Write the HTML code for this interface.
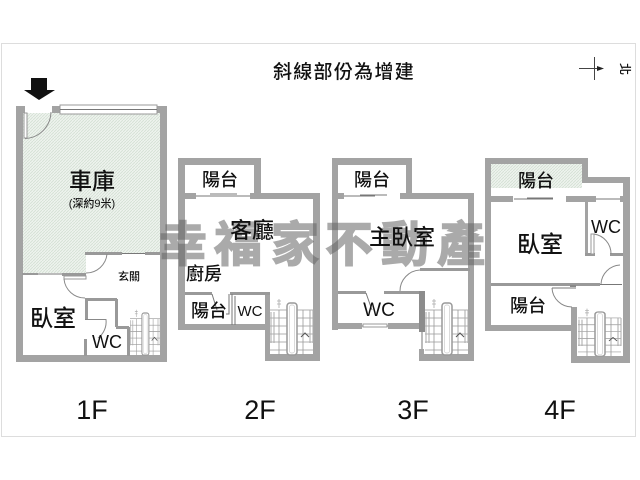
<!DOCTYPE html>
<html><head><meta charset="utf-8"><style>
html,body{margin:0;padding:0;background:#fff;width:640px;height:480px;overflow:hidden}
svg{display:block}
text{font-family:"Liberation Sans","Noto Sans CJK TC",sans-serif;fill:#111;text-anchor:middle;font-weight:500}
.w{fill:#a3a3a3}
.l{stroke:#777;stroke-width:1;fill:none}
.g{stroke:#999;stroke-width:1;fill:#fff}
text.wm{font-weight:700;font-size:48px;fill:#666;stroke:#666;stroke-width:1.5;opacity:.55}
</style></head><body>
<svg width="640" height="480" viewBox="0 0 640 480" xmlns="http://www.w3.org/2000/svg">
<defs>
<pattern id="h" width="3" height="3" patternUnits="userSpaceOnUse"><rect width="3" height="3" fill="#eef3ee"/><path d="M0 3L3 0" stroke="#d3e0d3" stroke-width=".8"/></pattern>
<g id="st">
<path d="M0 7H43M0 15H43M0 23H43M0 31H43M0 39H43M0 47H43M9 7V52M33 7V52" stroke="#999" stroke-width=".8" fill="none"/>
<rect x="17" y="0" width="10" height="52" rx="3" fill="#fff" stroke="#999" stroke-width="1.5"/>
<rect x="19.500" y="2" width="5" height="48" rx="2" fill="#fff" stroke="#ccc" stroke-width=".7"/>
<path d="M1 9V40M4 9V40M40 7V40M43 7V40" stroke="#aaa" fill="none"/>
<path d="M31 34L35 30L39 34" stroke="#555" fill="none"/>
<path d="M9 -4V5M7 -2H11M7 1H11" stroke="#aaa" stroke-width=".8" fill="none"/>
</g>
</defs>
<rect x="1.500" y="43.500" width="634" height="393" fill="#fff" stroke="#ddd"/>

<text x="344" y="78" font-size="19" letter-spacing="1.300">斜線部份為增建</text>
<path d="M579 68.500H602" stroke="#444"/><path d="M594.500 57V80" stroke="#444"/><path d="M604 68.500l-7-2.500v5z" fill="#222"/>
<text x="624" y="69" font-size="12" transform="rotate(90 624 69)" style="dominant-baseline:middle">北</text>

<!-- 1F -->
<rect x="22" y="113" width="138" height="160" fill="url(#h)"/>
<rect x="86" y="253" width="74" height="20" fill="#fff"/>
<path d="M31 78H47V90H55L39 100L24 90H31Z" fill="#111"/>
<rect class="w" x="16" y="106" width="7" height="256"/>
<rect class="w" x="160" y="106" width="7" height="256"/>
<rect class="w" x="16" y="355" width="151" height="7"/>
<rect class="w" x="16" y="106" width="9" height="7"/>
<rect class="w" x="52" y="106" width="8" height="7"/>
<rect class="w" x="157" y="106" width="10" height="7"/>
<rect class="g" x="60" y="105" width="97" height="9"/>
<path class="l" d="M60 109.500H157"/>
<rect class="g" x="24" y="113" width="3" height="25"/>
<path d="M25 138.500A27 27 0 0 0 51 112" fill="none" stroke="#888"/>
<rect fill="#999" x="85" y="252" width="37" height="3"/>
<path class="l" d="M122 253.500H145"/>
<rect fill="#999" x="145" y="252" width="15" height="3"/>
<path d="M107 254A21 21 0 0 1 86 273" fill="none" stroke="#888"/>
<rect fill="#999" x="22" y="273" width="16" height="2"/>
<path class="l" d="M38 274H62"/>
<rect fill="#999" x="62" y="273" width="24" height="3"/>
<rect class="g" x="64" y="276" width="22" height="3"/>
<path d="M64 279A21 21 0 0 0 85 298" fill="none" stroke="#888"/>
<path d="M86.500 298V319M85 299.500H117M116.500 299V327M116 327.500H129M128.500 327V356" stroke="#999" stroke-width="3" fill="none"/>
<path d="M85 319.500H106A20 20 0 0 1 98 338" fill="none" stroke="#888"/>
<rect fill="#999" x="84" y="339" width="3" height="17"/>
<use href="#st" transform="translate(130,313) scale(.7,.81)"/>

<!-- 2F -->
<rect class="w" x="178" y="158" width="7" height="172"/>
<rect class="w" x="178" y="158" width="83" height="7"/>
<rect class="w" x="254" y="158" width="7" height="41"/>
<rect class="w" x="178" y="193" width="18" height="6"/>
<rect class="w" x="250" y="193" width="70" height="6"/>
<rect class="w" x="313" y="193" width="7" height="168"/>
<rect class="w" x="265" y="354" width="55" height="7"/>
<rect class="w" x="265" y="292" width="5" height="69"/>
<rect class="w" x="178" y="324" width="92" height="6"/>
<rect x="185" y="292" width="27" height="3" fill="#999"/>
<rect x="230" y="292" width="40" height="3" fill="#999"/>
<path class="l" d="M196 196H250M210 194H237M212 294L217 310"/>
<path class="l" d="M229 294V314H226M232 294V325M235 296V325"/>
<use href="#st" transform="translate(270,303)"/>

<!-- 3F -->
<rect class="w" x="332" y="158" width="6" height="172"/>
<rect class="w" x="332" y="158" width="80" height="7"/>
<rect class="w" x="406" y="158" width="6" height="41"/>
<rect class="w" x="332" y="193" width="12" height="6"/>
<rect class="w" x="400" y="193" width="74" height="6"/>
<rect class="w" x="468" y="193" width="6" height="168"/>
<rect class="w" x="419" y="354" width="55" height="7"/>
<rect class="w" x="332" y="323" width="30" height="6"/>
<rect class="w" x="388" y="323" width="32" height="6"/>
<rect x="338" y="291" width="28" height="3" fill="#999"/>
<rect x="384" y="291" width="37" height="3" fill="#999"/>
<rect x="419" y="291" width="6" height="41" fill="#8c8c8c"/>
<rect class="w" x="419" y="349" width="5" height="8"/>
<rect x="420" y="268" width="50" height="3" fill="#999"/>
<path d="M420 270A21 21 0 0 0 400 291" fill="none" stroke="#888"/>
<path class="l" d="M344 196H375M360 195H387M366 293L372 310M362 326H388"/>
<rect class="g" x="363" y="324" width="24" height="3"/>
<path class="l" d="M422 332V349"/>
<use href="#st" transform="translate(425,303)"/>

<!-- 4F -->
<rect x="491" y="164" width="91" height="24" fill="url(#h)"/>
<rect class="w" x="485" y="158" width="6" height="173"/>
<rect class="w" x="485" y="158" width="103" height="6"/>
<rect class="w" x="582" y="158" width="6" height="25"/>
<rect class="w" x="583" y="177" width="47" height="6"/>
<rect class="w" x="623" y="177" width="7" height="186"/>
<rect class="w" x="485" y="196" width="28" height="6"/>
<rect class="w" x="566" y="196" width="30" height="6"/>
<rect class="w" x="620" y="196" width="5" height="6"/>
<rect class="w" x="485" y="325" width="92" height="6"/>
<rect class="w" x="571" y="307" width="6" height="56"/>
<rect class="w" x="571" y="356" width="59" height="7"/>
<rect class="w" x="585" y="200" width="3" height="54"/>
<rect x="585" y="253" width="10" height="3" fill="#999"/>
<rect x="610" y="253" width="13" height="3" fill="#999"/>
<path class="l" d="M514 199H553M527 198H553M596 199H620"/>
<path class="g" d="M591 234H594V254H591Z"/>
<path d="M594 234A20 20 0 0 1 611 254" fill="none" stroke="#888"/>
<path d="M620 265A20 20 0 0 0 601 284" fill="none" stroke="#888"/>
<rect x="491" y="283" width="109" height="3" fill="#999"/>
<rect x="570" y="285" width="6" height="2" fill="#888"/>
<path class="l" d="M600 284.500H622"/>
<path d="M552 288A20 20 0 0 0 572 307" fill="none" stroke="#888"/>
<path class="l" d="M552 288H576"/>
<use href="#st" transform="translate(578,312) scale(1,.85)"/>

<!-- watermark -->
<text class="wm" x="183" y="261">幸</text>
<text class="wm" x="238" y="261">福</text>
<text class="wm" x="295" y="261">家</text>
<text class="wm" x="349" y="261">不</text>
<text class="wm" x="405" y="261">動</text>
<text class="wm" x="461" y="261">產</text>

<!-- labels -->
<text x="92" y="189" font-size="23">車庫</text>
<text x="92" y="207" font-size="11">(深約9米)</text>
<text x="129" y="280" font-size="11">玄關</text>
<text x="53" y="326" font-size="23">臥室</text>
<text x="107" y="348" font-size="18">WC</text>
<text x="220" y="186" font-size="18">陽台</text>
<text x="252" y="238" font-size="22">客廳</text>
<text x="204" y="280" font-size="18">廚房</text>
<text x="209" y="317" font-size="18">陽台</text>
<text x="250" y="316" font-size="15">WC</text>
<text x="372" y="186" font-size="18">陽台</text>
<text x="402" y="245" font-size="22">主臥室</text>
<text x="379" y="316" font-size="19">WC</text>
<text x="536" y="187" font-size="18">陽台</text>
<text x="540" y="252" font-size="23">臥室</text>
<text x="606" y="233" font-size="18">WC</text>
<text x="528" y="312" font-size="18">陽台</text>
<text x="92" y="419" font-size="27" style="font-weight:400">1F</text>
<text x="260" y="419" font-size="27" style="font-weight:400">2F</text>
<text x="413" y="419" font-size="27" style="font-weight:400">3F</text>
<text x="560" y="419" font-size="27" style="font-weight:400">4F</text>
</svg>
</body></html>
